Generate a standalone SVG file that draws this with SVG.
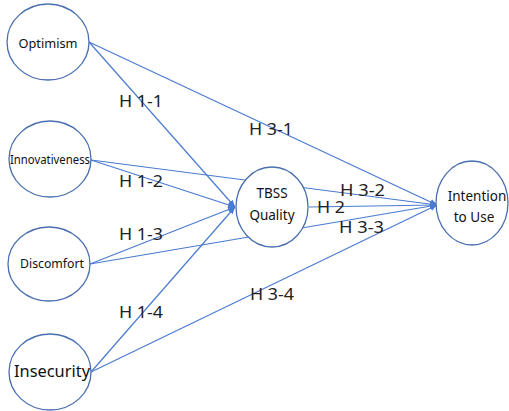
<svg xmlns="http://www.w3.org/2000/svg" width="509" height="411" viewBox="0 0 509 411">
<style>
.n{fill:#fff;stroke:#4a6fae;stroke-width:1.3}
.c{stroke:#4a7bd0;stroke-width:1.2;fill:none}
.t{font-family:"Noto Sans","Liberation Sans",sans-serif;fill:#111;text-anchor:middle}
.h{font-family:"Noto Sans","Liberation Sans",sans-serif;font-size:16px;fill:#222}
</style>
<defs>
<marker id="a" markerWidth="8" markerHeight="8" refX="7" refY="4" orient="auto" markerUnits="userSpaceOnUse">
<path d="M0,1 L7,4 L0,7 z" fill="#4a7bd0"/>
</marker>
</defs>
<rect width="509" height="411" fill="#fff"/>
<g id="connectors">
<line class="c" x1="89" y1="42" x2="235" y2="207" marker-end="url(#a)"/>
<line class="c" x1="89" y1="42" x2="437" y2="205" marker-end="url(#a)"/>
<line class="c" x1="91" y1="160" x2="235" y2="207" marker-end="url(#a)"/>
<line class="c" x1="91" y1="160" x2="437" y2="205" marker-end="url(#a)"/>
<line class="c" x1="90" y1="264" x2="235" y2="207" marker-end="url(#a)"/>
<line class="c" x1="90" y1="264" x2="437" y2="205" marker-end="url(#a)"/>
<line class="c" x1="91" y1="372" x2="235" y2="207" marker-end="url(#a)"/>
<line class="c" x1="91" y1="372" x2="437" y2="205" marker-end="url(#a)"/>
<line class="c" x1="309" y1="207" x2="437" y2="205" marker-end="url(#a)"/>
</g>
<g id="labels">
<text class="h" x="119" y="107" textLength="44" lengthAdjust="spacingAndGlyphs">H 1-1</text>
<text class="h" x="119" y="187" textLength="44" lengthAdjust="spacingAndGlyphs">H 1-2</text>
<text class="h" x="119" y="240" textLength="44" lengthAdjust="spacingAndGlyphs">H 1-3</text>
<text class="h" x="119" y="318" textLength="44" lengthAdjust="spacingAndGlyphs">H 1-4</text>
<text class="h" x="249" y="135" textLength="44" lengthAdjust="spacingAndGlyphs">H 3-1</text>
<text class="h" x="340" y="196" textLength="45" lengthAdjust="spacingAndGlyphs">H 3-2</text>
<text class="h" x="317" y="213" textLength="28" lengthAdjust="spacingAndGlyphs">H 2</text>
<text class="h" x="339" y="233" textLength="45" lengthAdjust="spacingAndGlyphs">H 3-3</text>
<text class="h" x="250" y="300" textLength="44" lengthAdjust="spacingAndGlyphs">H 3-4</text>
</g>
<g id="optimism">
<ellipse class="n" cx="48" cy="42" rx="41" ry="38"/>
<text class="t" x="48" y="48" font-size="13" textLength="59" lengthAdjust="spacingAndGlyphs">Optimism</text>
</g>
<g id="innovativeness">
<ellipse class="n" cx="50" cy="159" rx="41" ry="38"/>
<text class="t" x="50" y="164" font-size="12" textLength="80" lengthAdjust="spacingAndGlyphs">Innovativeness</text>
</g>
<g id="discomfort">
<ellipse class="n" cx="49" cy="264" rx="41" ry="37"/>
<text class="t" x="52" y="268" font-size="13" textLength="64" lengthAdjust="spacingAndGlyphs">Discomfort</text>
</g>
<g id="insecurity">
<ellipse class="n" cx="50" cy="372" rx="41" ry="38"/>
<text class="t" x="52" y="377" font-size="17" textLength="76" lengthAdjust="spacingAndGlyphs">Insecurity</text>
</g>
<g id="tbss">
<ellipse class="n" cx="272" cy="207" rx="36" ry="40"/>
<text class="t" x="272" y="198" font-size="13.5">TBSS</text>
<text class="t" x="272" y="220" font-size="13.5">Quality</text>
</g>
<g id="intention">
<ellipse class="n" cx="472" cy="203" rx="36" ry="42"/>
<text class="t" x="477" y="201" font-size="13.5">Intention</text>
<text class="t" x="474" y="222" font-size="13.5">to Use</text>
</g>
</svg>
